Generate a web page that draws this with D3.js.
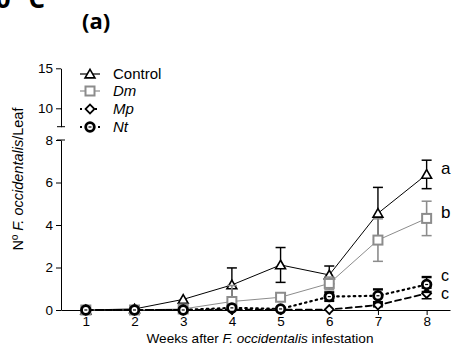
<!DOCTYPE html>
<html>
<head>
<meta charset="utf-8">
<script src="https://cdn.jsdelivr.net/npm/d3@7"></script>
<style>
  html, body { margin: 0; padding: 0; background: #fff; }
  svg { display: block; font-family: Arial, "Liberation Sans", sans-serif; }
</style>
</head>
<body>
<svg id="chart" width="454" height="348"></svg>
<script>
// Thrips per leaf over the weeks after infestation (mean ± error)
const weeks = [1, 2, 3, 4, 5, 6, 7, 8];
const control    = [0, 0.05, 0.5, 1.18, 2.12, 1.65, 4.55, 6.38];
const controlErr = [0, 0, 0, 0.8, 0.82, 0.42, 1.22, 0.67];
const dm    = [0, 0, 0.05, 0.4, 0.6, 1.25, 3.29, 4.31];
const dmErr = [0, 0, 0, 0.75, 0, 0.3, 1.0, 0.81];
const mp    = [0, 0, 0, 0.02, 0.02, 0.02, 0.23, 0.78];
const mpErr = [0, 0, 0, 0, 0, 0, 0.08, 0.25];
const nt    = [0, 0, 0, 0.1, 0.05, 0.63, 0.67, 1.2];
const ntErr = [0, 0, 0, 0.05, 0, 0.2, 0.3, 0.35];
const lowerTicks = [0, 2, 4, 6, 8];
const upperTicks = [10, 15];
const groupLetters = ["a", "b", "c", "c"];

const svg = d3.select("#chart");

const x = d3.scaleLinear().domain([0.49, 8.48]).range([61, 450]);
const yLow = d3.scaleLinear().domain([0, 8]).range([310, 140]);
const yHigh = d3.scaleLinear().domain([7.7, 15]).range([126.7, 68.3]);

// Panel headings
svg.append("text").attr("x", 45).attr("y", 8).attr("text-anchor", "end")
  .attr("font-family", "'Open Sans', sans-serif").attr("font-weight", "bold")
  .attr("font-size", 26).text("0 °C");
svg.append("text").attr("x", 82).attr("y", 29)
  .attr("font-family", "'Open Sans', sans-serif").attr("font-weight", "bold")
  .attr("font-size", 22).text("(a)");

// X axis
const xAxis = d3.axisBottom(x).tickValues(weeks).tickFormat(d3.format("d"))
  .tickSize(5).tickSizeOuter(0);
const gx = svg.append("g").attr("transform", `translate(0,${yLow(0)})`).call(xAxis);
gx.selectAll("text").attr("font-size", 13.5).attr("fill", "#000").attr("dy", "0.6em");

// Lower y segment
const gyl = svg.append("g").attr("transform", "translate(61,0)")
  .call(d3.axisLeft(yLow).tickValues(lowerTicks).tickSize(5).tickSizeOuter(0));
gyl.selectAll("text").attr("font-size", 13.5).attr("fill", "#000");
// Upper y segment
const gyh = svg.append("g").attr("transform", "translate(61,0)")
  .call(d3.axisLeft(yHigh).tickValues(upperTicks).tickSize(5).tickSizeOuter(0));
gyh.selectAll("text").attr("font-size", 13.5).attr("fill", "#000");
svg.selectAll(".domain").attr("stroke", "#000");

// Break caps
[yHigh(7.7), yLow(8)].forEach(yy => {
  svg.append("line").attr("x1", 57).attr("x2", 65).attr("y1", yy).attr("y2", yy)
    .attr("stroke", "#000");
});

// Axis titles
const yt = svg.append("text").attr("transform", "translate(23,179) rotate(-90)")
  .attr("text-anchor", "middle").attr("font-size", 14.5);
yt.append("tspan").text("Nº ");
yt.append("tspan").attr("font-style", "italic").text("F. occidentalis");
yt.append("tspan").text("/Leaf");

const xt = svg.append("text").attr("x", 260).attr("y", 343)
  .attr("text-anchor", "middle").attr("font-size", 13.6);
xt.append("tspan").text("Weeks after ");
xt.append("tspan").attr("font-style", "italic").text("F. occidentalis");
xt.append("tspan").text(" infestation");

// Marker shapes
function marker(g, type, cx, cy, s) {
  if (type === "triangle") {
    g.append("path").attr("d", d3.symbol(d3.symbolTriangle2, 70)())
      .attr("transform", `translate(${cx},${cy + 1})`)
      .attr("fill", "#fff").attr("stroke", s.color).attr("stroke-width", 1.6);
  } else if (type === "square") {
    g.append("rect").attr("x", cx - 4.5).attr("y", cy - 4.5).attr("width", 9).attr("height", 9)
      .attr("fill", "#fff").attr("stroke", s.color).attr("stroke-width", 2);
  } else if (type === "diamond") {
    g.append("path").attr("d", d3.symbol(d3.symbolSquare2, 50)())
      .attr("transform", `translate(${cx},${cy}) rotate(45)`)
      .attr("fill", "#fff").attr("stroke", s.color).attr("stroke-width", 1.8);
  } else {
    g.append("circle").attr("cx", cx).attr("cy", cy).attr("r", 4.3)
      .attr("fill", "#fff").attr("stroke", s.color).attr("stroke-width", 2.8);
    g.append("line").attr("x1", cx - 1.5).attr("x2", cx + 1.5).attr("y1", cy).attr("y2", cy)
      .attr("stroke", s.color).attr("stroke-width", 1.2);
  }
}

const series = [
  { name: "Control", vals: control, err: controlErr, type: "triangle", color: "#000", lw: 1, dash: null, italic: false },
  { name: "Dm", vals: dm, err: dmErr, type: "square", color: "#8c8c8c", lw: 1, dash: null, italic: true },
  { name: "Mp", vals: mp, err: mpErr, type: "diamond", color: "#000", lw: 1.8, dash: "6,4", italic: true },
  { name: "Nt", vals: nt, err: ntErr, type: "circle", color: "#000", lw: 2.2, dash: "1.5,4", italic: true }
];

const line = d3.line().x(d => x(d[0])).y(d => yLow(d[1]));

series.forEach(s => {
  const g = svg.append("g");
  const pts = weeks.map((w, i) => [w, s.vals[i]]);
  g.append("path").attr("d", line(pts)).attr("fill", "none")
    .attr("stroke", s.color).attr("stroke-width", s.lw)
    .attr("stroke-dasharray", s.dash).attr("stroke-linecap", "round");
  // error bars
  weeks.forEach((w, i) => {
    const e = s.err[i];
    if (!e) return;
    const cx = x(w);
    const lo = Math.max(0, s.vals[i] - e), hi = s.vals[i] + e;
    g.append("line").attr("x1", cx).attr("x2", cx)
      .attr("y1", yLow(lo)).attr("y2", yLow(hi))
      .attr("stroke", s.color).attr("stroke-width", s.type === "triangle" ? 1.4 : 1.6);
    [lo, hi].forEach(v => {
      if (v === 0) return;
      g.append("line").attr("x1", cx - 5).attr("x2", cx + 5)
        .attr("y1", yLow(v)).attr("y2", yLow(v))
        .attr("stroke", s.color).attr("stroke-width", s.type === "circle" ? 2.4 : 1.5);
    });
  });
  pts.forEach(p => marker(g, s.type, x(p[0]), yLow(p[1]), s));
});

// Group letters at week 8
const letterY = [168, 212, 275, 293];
const letterSize = [17, 17, 16, 16];
groupLetters.forEach((t, i) => {
  svg.append("text").attr("x", 441).attr("y", letterY[i]).attr("dy", "0.35em")
    .attr("font-size", letterSize[i]).text(t);
});

// Legend
series.forEach((s, i) => {
  const ly = [74, 91, 109, 127][i];
  const g = svg.append("g");
  g.append("line").attr("x1", 80).attr("x2", 100).attr("y1", ly).attr("y2", ly)
    .attr("stroke", s.color).attr("stroke-width", s.type === "circle" ? 2.2 : (s.type === "diamond" ? 1.8 : 1.2))
    .attr("stroke-dasharray", s.type === "circle" ? "2,4" : (s.type === "diamond" ? "2,3" : null));
  marker(g, s.type, 90, ly, s);
  g.append("text").attr("x", 113).attr("y", ly).attr("dy", "0.35em")
    .attr("font-size", 15).attr("font-style", s.italic ? "italic" : "normal").text(s.name);
});
</script>
</body>
</html>
